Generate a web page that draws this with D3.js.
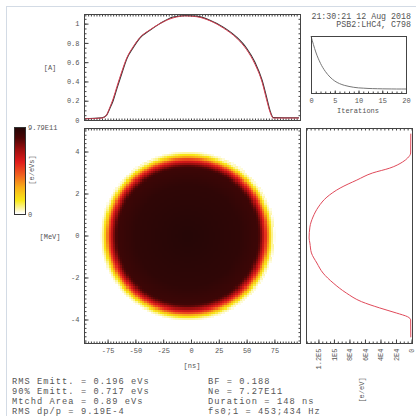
<!DOCTYPE html>
<html>
<head>
<meta charset="utf-8">
<script src="https://cdnjs.cloudflare.com/ajax/libs/d3/7.8.5/d3.min.js"></script>
<style>
    body { margin: 0; background: #fff; }
    svg text { font-family: "Liberation Mono", "DejaVu Sans Mono", monospace; fill: #555; }
</style>
</head>
<body>
<svg id="canvas" width="416" height="416"></svg>
<script>
// Line density (top panel), time in ns, current in A.
const profileTimes = [-96, -80, -76, -73, -70, -66.5, -62, -57.5, -52, -46, -37, -28, -16, -5, 5, 17, 29, 41, 50, 57.5, 64, 68, 71, 74, 97];
const measuredCurrent = [0.013, 0.023, 0.047, 0.12, 0.20, 0.33, 0.49, 0.64, 0.75, 0.85, 0.93, 1.0, 1.068, 1.085, 1.078, 1.036, 0.964, 0.86, 0.745, 0.60, 0.41, 0.235, 0.10, 0.026, 0.023];
const reconstructedCurrent = [0.012, 0.02, 0.05, 0.13, 0.22, 0.35, 0.51, 0.65, 0.76, 0.855, 0.935, 1.0, 1.06, 1.08, 1.072, 1.03, 0.955, 0.85, 0.73, 0.58, 0.39, 0.21, 0.085, 0.02, 0.02];

// Energy profile (right panel), energy in MeV, density in e/eV.
const profileEnergies = [4.85, 3.93, 3.69, 3.5, 3.21, 2.98, 2.64, 2.26, 1.83, 1.36, 0.88, 0.40, -0.12, -0.36, -0.83, -1.31, -1.79, -2.26, -2.74, -3.15, -3.45, -3.69, -3.87, -4.02, -4.85];
const energyDensity = [900, 1100, 5000, 11500, 28000, 50000, 70500, 92000, 109000, 120000, 127000, 131000, 132000, 131000, 129000, 122000, 114000, 101000, 84000, 64500, 41000, 19600, 5000, 1100, 900];

// Convergence (small panel).
const iterations = d3.range(0, 21);
const convergence = [1.0, 0.72, 0.52, 0.38, 0.28, 0.21, 0.165, 0.135, 0.115, 0.10, 0.09, 0.085, 0.08, 0.077, 0.075, 0.073, 0.072, 0.071, 0.07, 0.07, 0.07];

// Phase space density, read as a radial profile of the bunch.
const bunchCentre = [-3, 0];
const bunchSemiAxes = [78.5, 4.05];
const radialPositions = [0, 0.6, 0.8, 0.83, 0.86, 0.885, 0.91, 0.94, 0.97, 1.0];
const radialLevels = [0.99, 0.96, 0.92, 0.85, 0.72, 0.6, 0.45, 0.22, 0.07, 0];

// Colour map of the density.
const colourLevels = [0, 0.05, 0.15, 0.3, 0.45, 0.6, 0.75, 0.88, 1];
const colourValues = ["#ffffff", "#fdf6b0", "#f8e818", "#f8b018", "#f06020", "#e01c1c", "#9a0e0e", "#4a0606", "#220606"];

const timeTicks = [-75, -50, -25, 0, 25, 50, 75];
const energyTicks = [-4, -2, 0, 2, 4];
const currentTicks = [0, 0.2, 0.4, 0.6, 0.8, 1];
const densityTicks = [0, 2e4, 4e4, 6e4, 8e4, 1e5, 1.2e5];
const densityTickLabels = ["0", "2E4", "4E4", "6E4", "8E4", "1E5", "1.2E5"];
const iterationTicks = [0, 5, 10, 15, 20];

const statsLeft = ["RMS Emitt. = 0.196 eVs", "90% Emitt. = 0.717 eVs", "Mtchd Area = 0.89 eVs", "RMS dp/p = 9.19E-4"];
const statsRight = ["BF = 0.188", "Ne = 7.27E11", "Duration = 148 ns", "fs0;1 = 453;434 Hz"];
const headerLines = ["21:30:21 12 Aug 2018", "PSB2:LHC4, C798"];
const colourBarMax = "9.79E11";

(() => {
    const canvas = d3.select("#canvas");
    const BORDER = "#444";
    const TICK_FONT = 7;

    // Scales.
    const xTime = d3.scaleLinear().domain([-96.2, 98]).range([84, 300]);
    const yEnergy = d3.scaleLinear().domain([-5.12, 5.12]).range([343, 128]);
    const yCurrent = d3.scaleLinear().domain([0, 1.1]).range([120, 14]);
    const xDensity = d3.scaleLinear().domain([0, 1.36e5]).range([411.5, 306]);
    const xIter = d3.scaleLinear().domain([0, 20]).range([311, 406]);
    const yIter = d3.scaleLinear().domain([0, 1]).range([93, 36]);
    const radial = d3.scaleLinear().domain(radialPositions).range(radialLevels).clamp(true);
    const colour = d3.scaleLinear().domain(colourLevels).range(colourValues).clamp(true);

    // Window frame.
    canvas.append("line").attr("x1", 6.5).attr("x2", 6.5).attr("y1", 6).attr("y2", 416)
        .attr("stroke", "#d3dbe5");
    canvas.append("line").attr("x1", 6).attr("x2", 416).attr("y1", 6.5).attr("y2", 6.5)
        .attr("stroke", "#d3dbe5");

    function panelBox(x0, x1, y0, y1) {
        canvas.append("rect")
            .attr("x", x0 + 0.5).attr("y", y0 + 0.5)
            .attr("width", x1 - x0).attr("height", y1 - y0)
            .attr("fill", "none").attr("stroke", BORDER).attr("stroke-width", 1);
    }

    function ticks(axis, scale, values, size, pos, labels) {
        let a = axis(scale).tickValues(values).tickSize(size)
            .tickPadding(labels ? 5 : 0)
            .tickFormat(labels ? (d, i) => labels[i] : "");
        let g = canvas.append("g").attr("transform", pos).call(a);
        g.select(".domain").remove();
        g.selectAll("line").attr("stroke", BORDER);
        g.selectAll("text").attr("font-size", TICK_FONT).attr("fill", "#555")
            .attr("font-family", "Liberation Mono, monospace");
        return g;
    }

    // ---- Phase space heatmap.
    const cellT = 2, cellE = 0.1;
    const cells = [];
    for (let t = -96; t < 98; t += cellT) {
        for (let e = -5.1; e < 5.1; e += cellE) {
            let r = Math.hypot((t + cellT / 2 - bunchCentre[0]) / bunchSemiAxes[0],
                (e + cellE / 2 - bunchCentre[1]) / bunchSemiAxes[1]);
            let level = radial(r);
            if (level > 0.004) cells.push({ t, e, level });
        }
    }
    canvas.append("g").attr("shape-rendering", "crispEdges")
        .selectAll("rect").data(cells).enter().append("rect")
        .attr("x", d => xTime(d.t))
        .attr("y", d => yEnergy(d.e + cellE))
        .attr("width", xTime(cellT) - xTime(0) + 0.6)
        .attr("height", yEnergy(0) - yEnergy(cellE) + 0.6)
        .attr("fill", d => colour(d.level));

    panelBox(84, 300, 128, 343);
    ticks(d3.axisBottom, xTime, d3.range(-95, 97.5, 2.5), -2, "translate(0,343.5)");
    ticks(d3.axisBottom, xTime, timeTicks, -4, "translate(0,343.5)", timeTicks.map(String));
    ticks(d3.axisTop, xTime, d3.range(-95, 97.5, 2.5), -2, "translate(0,128.5)");
    ticks(d3.axisLeft, yEnergy, d3.range(-5, 5.1, 0.2), -2, "translate(84.5,0)");
    ticks(d3.axisLeft, yEnergy, energyTicks, -4, "translate(84.5,0)", energyTicks.map(String));
    ticks(d3.axisRight, yEnergy, d3.range(-5, 5.1, 0.2), -2, "translate(300.5,0)");

    canvas.append("text").attr("x", 192).attr("y", 368).attr("text-anchor", "middle")
        .attr("font-size", 7).attr("fill", "#888").text("[ns]");
    canvas.append("text").attr("x", 50).attr("y", 239).attr("text-anchor", "middle")
        .attr("font-size", 7).attr("fill", "#888").text("[MeV]");

    // ---- Line density panel.
    const lineFor = ys => d3.line()
        .x((d, i) => xTime(profileTimes[i]))
        .y((d, i) => yCurrent(ys[i]))
        .curve(d3.curveMonotoneX)(ys);
    canvas.append("path").attr("d", lineFor(measuredCurrent))
        .attr("fill", "none").attr("stroke", "#333").attr("stroke-width", 1.1);
    canvas.append("path").attr("d", lineFor(reconstructedCurrent))
        .attr("fill", "none").attr("stroke", "#d83c50").attr("stroke-width", 1);

    panelBox(84, 300, 14, 120);
    ticks(d3.axisBottom, xTime, d3.range(-95, 97.5, 2.5), -2, "translate(0,120.5)");
    ticks(d3.axisTop, xTime, d3.range(-95, 97.5, 2.5), -2, "translate(0,14.5)");
    ticks(d3.axisLeft, yCurrent, d3.range(0, 1.1, 0.05), -2, "translate(84.5,0)");
    ticks(d3.axisLeft, yCurrent, currentTicks, -4, "translate(84.5,0)", currentTicks.map(String));
    ticks(d3.axisRight, yCurrent, d3.range(0, 1.1, 0.05), -2, "translate(300.5,0)");
    canvas.append("text").attr("x", 50).attr("y", 70).attr("text-anchor", "middle")
        .attr("font-size", 7).attr("fill", "#888").text("[A]");

    // ---- Energy profile panel.
    const energyLine = d3.line()
        .x(d => xDensity(d))
        .y((d, i) => yEnergy(profileEnergies[i]))
        .curve(d3.curveMonotoneY);
    canvas.append("path").attr("d", energyLine(energyDensity))
        .attr("fill", "none").attr("stroke", "#e04a5a").attr("stroke-width", 1);

    panelBox(306, 412, 128, 343);
    ticks(d3.axisTop, xDensity, d3.range(0, 1.36e5, 5e3), -2, "translate(0,128.5)");
    ticks(d3.axisBottom, xDensity, d3.range(0, 1.36e5, 5e3), -2, "translate(0,343.5)");
    let dg = ticks(d3.axisBottom, xDensity, densityTicks, -4, "translate(0,343.5)", densityTickLabels);
    dg.selectAll("text")
        .attr("transform", "rotate(-90)")
        .attr("text-anchor", "end")
        .attr("dy", "0.32em")
        .attr("x", -5).attr("y", 0);
    canvas.append("text").attr("transform", "translate(364,390) rotate(-90)")
        .attr("text-anchor", "middle").attr("font-size", 7).attr("fill", "#888").text("[e/eV]");

    // ---- Convergence panel.
    const iterLine = d3.line().x((d, i) => xIter(iterations[i])).y(d => yIter(d)).curve(d3.curveMonotoneX);
    canvas.append("path").attr("d", iterLine(convergence))
        .attr("fill", "none").attr("stroke", "#777").attr("stroke-width", 1);
    panelBox(311, 406, 36, 93);
    ticks(d3.axisBottom, xIter, iterations, -2, "translate(0,93.5)");
    ticks(d3.axisBottom, xIter, iterationTicks, -3, "translate(0,93.5)", iterationTicks.map(String));
    canvas.append("text").attr("x", 358).attr("y", 113).attr("text-anchor", "middle")
        .attr("font-size", 7).attr("fill", "#666").text("Iterations");

    canvas.selectAll("text.header").data(headerLines).enter().append("text")
        .classed("header", true)
        .attr("x", 411).attr("y", (d, i) => 19 + i * 8)
        .attr("text-anchor", "end").attr("font-size", 8.3).attr("fill", "#444")
        .text(d => d);

    // ---- Colour bar.
    const barLevels = d3.range(0, 1.0001, 1 / 86);
    const yBar = d3.scaleLinear().domain([0, 1]).range([214, 128]);
    canvas.append("g").attr("shape-rendering", "crispEdges")
        .selectAll("rect").data(barLevels).enter().append("rect")
        .attr("x", 14).attr("y", d => yBar(d) - 1.2)
        .attr("width", 11).attr("height", 1.6)
        .attr("fill", d => colour(d));
    canvas.append("rect").attr("x", 14.5).attr("y", 127.5).attr("width", 11).attr("height", 87)
        .attr("fill", "none").attr("stroke", "#333");
    canvas.append("text").attr("x", 28).attr("y", 130).attr("font-size", 7).attr("fill", "#555").text(colourBarMax);
    canvas.append("text").attr("x", 28).attr("y", 217).attr("font-size", 7).attr("fill", "#555").text("0");
    canvas.append("text").attr("transform", "translate(34,170) rotate(-90)")
        .attr("text-anchor", "middle").attr("font-size", 7).attr("fill", "#888").text("[e/eVs]");

    // ---- Statistics text.
    const statY = i => 384 + i * 10;
    const STAT_FONT = 8.7;
    canvas.selectAll("text.statL").data(statsLeft).enter().append("text")
        .classed("statL", true).attr("x", 12).attr("y", (d, i) => statY(i))
        .attr("font-size", STAT_FONT).attr("letter-spacing", 1.05).attr("fill", "#444")
        .attr("xml:space", "preserve").text(d => d);
    canvas.selectAll("text.statR").data(statsRight).enter().append("text")
        .classed("statR", true).attr("x", 208).attr("y", (d, i) => statY(i))
        .attr("font-size", STAT_FONT).attr("letter-spacing", 1.05).attr("fill", "#444")
        .attr("xml:space", "preserve").text(d => d);
})();
</script>
</body>
</html>
